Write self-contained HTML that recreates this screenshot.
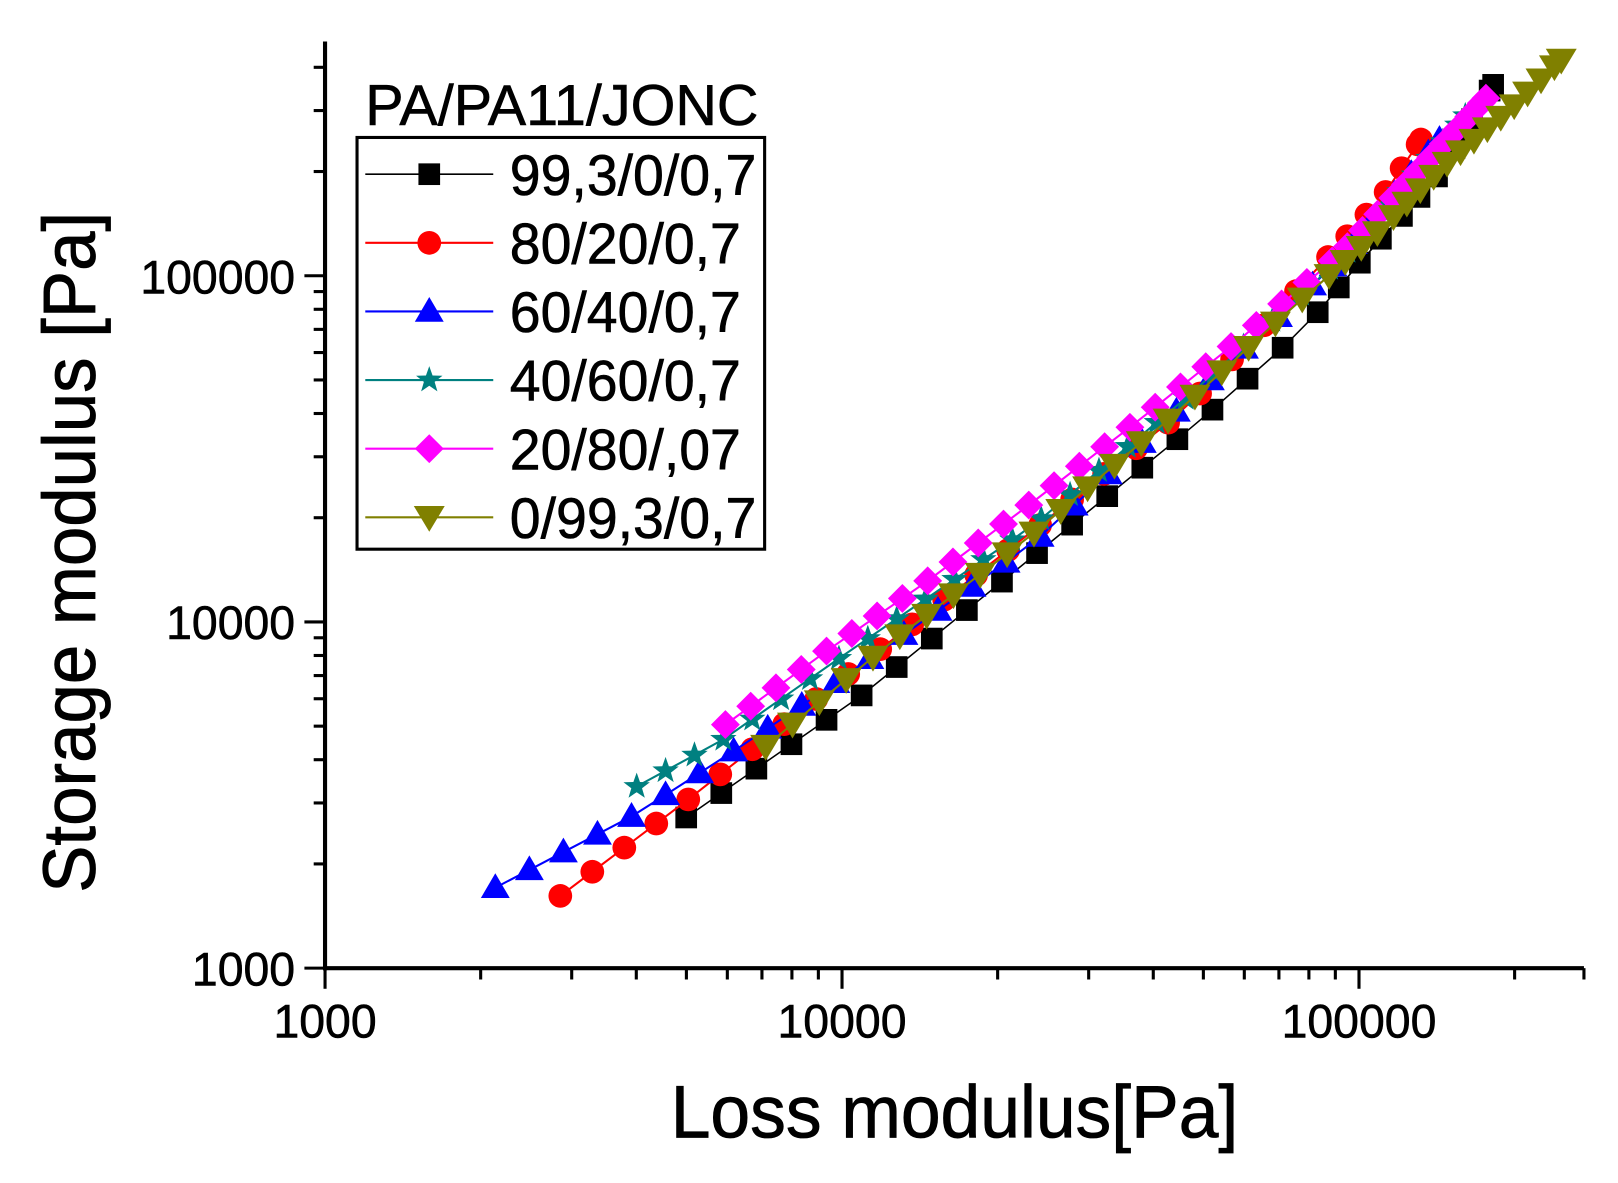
<!DOCTYPE html>
<html><head><meta charset="utf-8"><style>html,body{margin:0;padding:0;background:#fff}svg{display:block}</style></head>
<body>
<svg id="s" xmlns="http://www.w3.org/2000/svg" width="1618" height="1183" viewBox="0 0 1568 1146" font-family="Liberation Sans, Arial, sans-serif">
<rect width="1568" height="1146" fill="#fff"/>
<g id="axes" stroke="#000" stroke-width="4" fill="none">
<line x1="315" y1="40" x2="315" y2="940"/>
<line x1="313" y1="938" x2="1535" y2="938"/>
</g>
<g id="ticks" stroke="#000" stroke-width="3"></g>
<g font-size="46" fill="#000" stroke="#000" stroke-width="0.6">
<text x="286" y="284" text-anchor="end" textLength="150" lengthAdjust="spacingAndGlyphs">100000</text>
<text x="286" y="619" text-anchor="end" textLength="125" lengthAdjust="spacingAndGlyphs">10000</text>
<text x="286" y="955" text-anchor="end" textLength="100" lengthAdjust="spacingAndGlyphs">1000</text>
<text x="315" y="1005" text-anchor="middle" textLength="100" lengthAdjust="spacingAndGlyphs">1000</text>
<text x="816" y="1005" text-anchor="middle" textLength="125" lengthAdjust="spacingAndGlyphs">10000</text>
<text x="1317" y="1005" text-anchor="middle" textLength="150" lengthAdjust="spacingAndGlyphs">100000</text>
</g>
<text x="650" y="1102" font-size="72" stroke="#000" stroke-width="0.8" textLength="550" lengthAdjust="spacingAndGlyphs">Loss modulus[Pa]</text>
<text transform="translate(92,865) rotate(-90)" font-size="72" stroke="#000" stroke-width="0.8" textLength="660" lengthAdjust="spacingAndGlyphs">Storage modulus [Pa]</text>
<g id="data"></g>
<g id="legend">
<text x="354" y="121" font-size="56" stroke="#000" stroke-width="0.6" textLength="381" lengthAdjust="spacingAndGlyphs">PA/PA11/JONC</text>
<rect x="346" y="133" width="395" height="399" fill="#fff" stroke="#000" stroke-width="3"/>
</g>
</svg>
<script>
var NS="http://www.w3.org/2000/svg";
function el(p,n,a){var e=document.createElementNS(NS,n);for(var k in a)e.setAttribute(k,a[k]);p.appendChild(e);return e;}
var T=document.getElementById('ticks');
var X0=315,DX=501,Y0=938,DY=335.5;
for(var d=0;d<3;d++)for(var m=1;m<10;m++){var x=X0+(d+Math.log10(m))*DX;if(x>1535)break;var L=m==1?20:11;el(T,'line',{x1:x,y1:938,x2:x,y2:938+L});}
for(var d=0;d<3;d++)for(var m=1;m<10;m++){var y=Y0-(d+Math.log10(m))*DY;if(y<40)break;var L=m==1?20:11;el(T,'line',{x1:315-L,y1:y,x2:315,y2:y});}
el(T,'line',{x1:1535,y1:938,x2:1535,y2:949});
function yAt(A,x){for(var i=0;i<A.length-1;i++){if(x>=A[i][0]-0.001&&x<=A[i+1][0]+0.001){var t=(x-A[i][0])/(A[i+1][0]-A[i][0]);return A[i][1]+t*(A[i+1][1]-A[i][1]);}}return A[A.length-1][1];}
function interp(A,step){var pts=[],x=A[0][0],end=A[A.length-1][0];while(x<=end+0.1){pts.push([x,yAt(A,x)]);var st=step;if(x>1270)st=step*0.6;if(x>1340)st=step*0.5;x+=st;}
 if(end-pts[pts.length-1][0]>3)pts.push([end,yAt(A,end)]);return pts;}
function marker(g,type,x,y,c,s){s=s||1;
 if(type=='sq')el(g,'rect',{x:x-10.5*s,y:y-10.5*s,width:21*s,height:21*s,fill:c});
 else if(type=='ci')el(g,'circle',{cx:x,cy:y,r:11.5*s,fill:c});
 else if(type=='tu')el(g,'polygon',{points:(x)+','+(y-14*s)+' '+(x-14*s)+','+(y+10*s)+' '+(x+14*s)+','+(y+10*s),fill:c});
 else if(type=='td')el(g,'polygon',{points:(x)+','+(y+14*s)+' '+(x-15*s)+','+(y-11*s)+' '+(x+15*s)+','+(y-11*s),fill:c});
 else if(type=='di')el(g,'polygon',{points:x+','+(y-14*s)+' '+(x+14*s)+','+y+' '+x+','+(y+14*s)+' '+(x-14*s)+','+y,fill:c});
 else if(type=='st'){var p=[];for(var i=0;i<10;i++){var r=i%2?5.5*s:13.5*s,a=-Math.PI/2+i*Math.PI/5;p.push((x+r*Math.cos(a)).toFixed(1)+','+(y+r*Math.sin(a)).toFixed(1));}el(g,'polygon',{points:p.join(' '),fill:c});}
}
var S=[
 {c:'#000000',t:'sq',lw:1.5,step:34,A:[[665,792],[836,673],[1022,522],[1160,410],[1262,320],[1330,240],[1390,175],[1447,82]],lab:'99,3/0/0,7'},
 {c:'#ff0000',t:'ci',lw:2,step:31,A:[[543,868],[669,773],[818,656],[1000,515],[1150,395],[1300,235],[1340,190],[1377,135]],lab:'80/20/0,7'},
 {c:'#0000ff',t:'tu',lw:2,step:33,A:[[480,860],[614,790],[712,727],[812,660],[1000,527],[1160,380],[1300,250],[1395,135]],lab:'60/40/0,7'},
 {c:'#008080',t:'st',lw:2,step:28,A:[[617,762],[700,717],[820,633],[1000,510],[1150,385],[1300,250],[1420,112]],lab:'40/60/0,7'},
 {c:'#ff00ff',t:'di',lw:2,step:24.5,A:[[703,702],[802,630],[900,562],[1000,487],[1100,410],[1200,330],[1300,245],[1440,95]],lab:'20/80/,07'},
 {c:'#808000',t:'td',lw:2,step:26,A:[[742,723],[860,625],[1000,518],[1140,400],[1250,300],[1330,230],[1400,160],[1470,100],[1513,58]],lab:'0/99,3/0,7'}
];
var D=document.getElementById('data'),LG=document.getElementById('legend');
S.forEach(function(s,i){var p=interp(s.A,s.step);var g=el(D,'g',{});
 el(g,'polyline',{points:p.map(function(q){return q[0].toFixed(1)+','+q[1].toFixed(1)}).join(' '),fill:'none',stroke:s.c,'stroke-width':s.lw});
 p.forEach(function(q){marker(g,s.t,q[0],q[1],s.c);});
 var y=168.6+i*66.5;
 el(LG,'line',{x1:354,y1:y,x2:478,y2:y,stroke:s.c,'stroke-width':s.lw});
 marker(LG,s.t,416,y,s.c);
 var t=el(LG,'text',{x:494,y:y+20,'font-size':56,stroke:'#000','stroke-width':0.6,textLength:(s.lab.length==10?239:224),lengthAdjust:'spacingAndGlyphs'});t.textContent=s.lab;
});
</script>
</body></html>
